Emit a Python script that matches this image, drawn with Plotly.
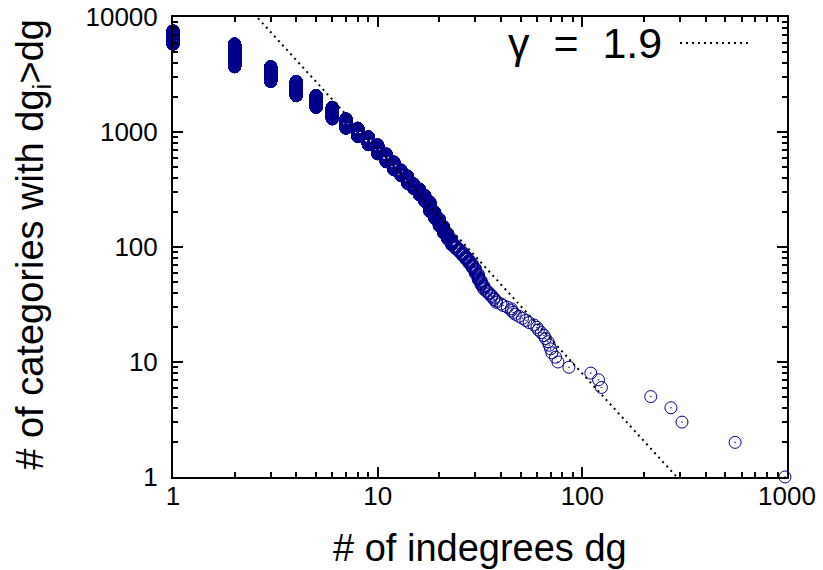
import plotly.graph_objects as go

# ---- data ----
# distinct indegree values and the number of categories with indegree >= that value
indegree = [1, 2, 3, 4, 5, 6, 7, 8, 9, 10, 11, 12, 13, 14, 15, 16, 17, 18, 19, 20,
            21, 22, 23, 24, 25, 26, 27, 28, 29, 30, 31, 32, 33, 34, 35, 36, 37, 38,
            40, 41, 43, 45, 46, 47, 49, 51, 53, 55, 58, 60, 61, 63, 65, 66, 68, 69,
            70, 71, 74, 76, 86, 110, 120, 124, 216, 271, 307, 558, 978]
n_at_least = [7550, 5820, 3700, 2750, 2070, 1640, 1300, 1080, 910, 775, 645, 550,
              468, 415, 355, 320, 282, 247, 202, 176, 151, 131, 116, 103, 96, 90, 83,
              77, 71, 65, 58, 51, 46, 42, 40, 38, 36, 34, 32, 31, 30, 29, 27, 26, 25,
              24, 23, 22, 21, 20, 19, 18, 17, 16, 15, 14, 13, 12, 11, 10, 9, 8, 7, 6,
              5, 4, 3, 2, 1]

# power-law guide line  y = fit_amplitude * dg^(-fit_slope)
fit_amplitude = 63000.0
fit_slope = 1.95
fit_x_span = [1, 1000]
legend_label = "\u03b3\u00a0 = \u00a01.9"

x_title = "# of indegrees dg"
y_title = "# of categories with dg<sub>i</sub>>dg"
x_tickvals = [1, 10, 100, 1000]
y_tickvals = [1, 10, 100, 1000, 10000]

# each category is one point: (its indegree, its rank)
xs, ys = [], []
for i, k in enumerate(indegree):
    lo = n_at_least[i + 1] + 1 if i + 1 < len(indegree) else 1
    for r in range(lo, n_at_least[i] + 1):
        xs.append(k)
        ys.append(r)

fit_y = [fit_amplitude * x ** (-fit_slope) for x in fit_x_span]

FONT = "Liberation Sans, Arial, Helvetica, sans-serif"
BLUE = "#00008B"

fig = go.Figure()
fig.add_trace(go.Scatter(
    x=xs, y=ys, mode="markers", cliponaxis=False, showlegend=False,
    marker=dict(symbol="circle-open-dot", size=12, color=BLUE,
                line=dict(color=BLUE, width=1)),
))
fig.add_trace(go.Scatter(
    x=fit_x_span, y=fit_y, mode="lines", showlegend=False,
    line=dict(color="black", width=2, dash="2px,4px"),
))

axis_common = dict(
    type="log", showgrid=False, zeroline=False, automargin=False,
    showline=True, linecolor="black", linewidth=2, mirror="ticks",
    ticks="inside", ticklen=10, tickwidth=1.5, tickcolor="black",
    minor=dict(ticks="inside", ticklen=5, tickwidth=1.5, tickcolor="black", dtick="D1"),
    tickformat="d", tickfont=dict(family=FONT, size=26, color="black"),
    ticklabeloverflow="allow",
)

fig.update_layout(
    width=823, height=570,
    margin=dict(l=173, r=36, t=17, b=93),
    paper_bgcolor="white", plot_bgcolor="white",
    xaxis=dict(axis_common, range=[-0.0002, 3.0002], tickvals=x_tickvals, ticklabelstandoff=-5),
    yaxis=dict(axis_common, range=[-0.0002, 4.0002], tickvals=y_tickvals, ticklabelstandoff=8),
)

# axis titles
fig.add_annotation(
    xref="paper", yref="paper", x=0.5, y=-0.154, xanchor="center", yanchor="middle",
    text=x_title, showarrow=False, font=dict(family=FONT, size=38, color="black"),
)
fig.add_annotation(
    xref="paper", yref="paper", x=-0.228, y=0.505, xanchor="center", yanchor="middle",
    text=y_title, textangle=-90, showarrow=False,
    font=dict(family=FONT, size=38, color="black"),
)

# key for the guide line
fig.add_annotation(
    xref="paper", yref="paper", x=0.80, y=0.9435, xanchor="right", yanchor="middle",
    text=legend_label, showarrow=False,
    font=dict(family=FONT, size=43, color="black"),
)
fig.add_shape(
    type="line", xref="paper", yref="paper", x0=0.8257, x1=0.9365, y0=0.9435, y1=0.9435,
    line=dict(color="black", width=2, dash="2px,4px"),
)

fig.write_html(
    "out.html",
    config={"displayModeBar": False},
    post_script="document.body.style.margin='0';document.body.style.overflow='hidden';",
)
